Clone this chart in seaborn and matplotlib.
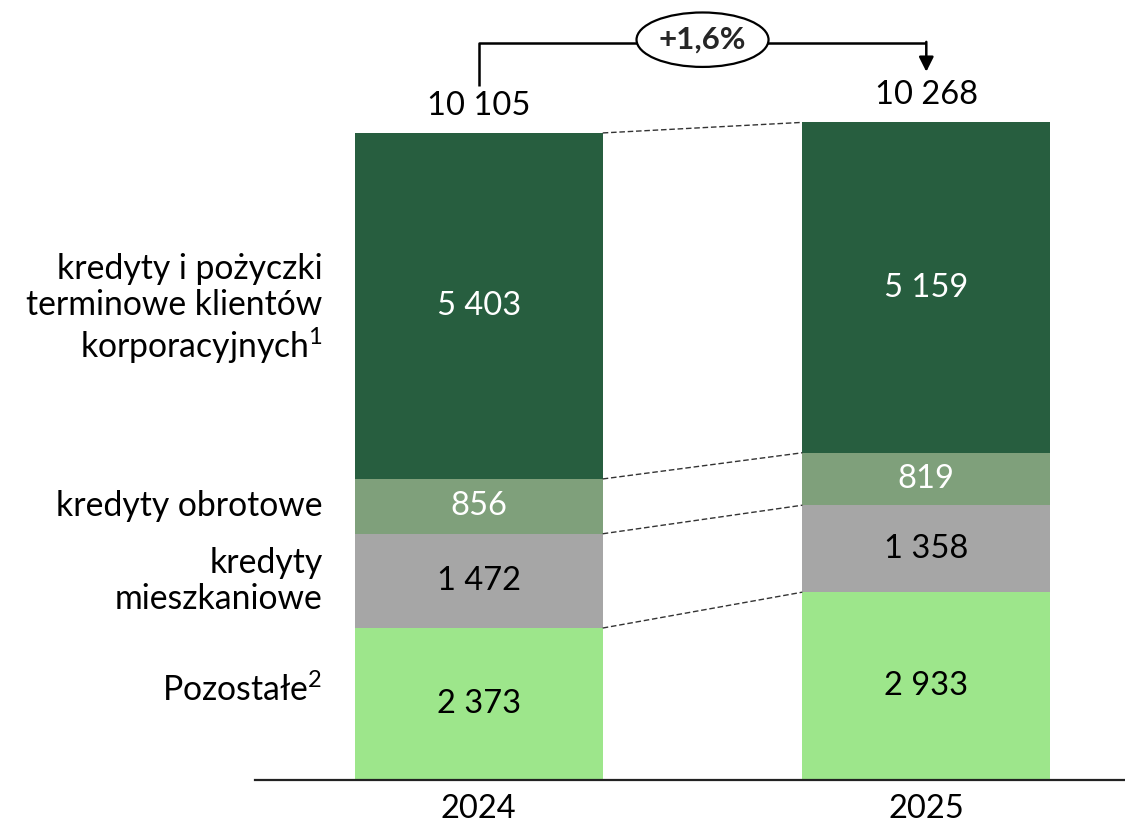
import numpy as np
import pandas as pd
import matplotlib
matplotlib.use("Agg")
import matplotlib.pyplot as plt
from matplotlib.patches import Ellipse
import seaborn as sns

# data (mln PLN)
years = ["2024", "2025"]
segments = ["Pozostałe", "kredyty mieszkaniowe", "kredyty obrotowe",
            "kredyty i pożyczki terminowe"]
pozostale = [2373, 2933]
mieszkaniowe = [1472, 1358]
obrotowe = [856, 819]
terminowe = [5403, 5159]
totals = [10105, 10268]
growth_label = "+1,6%"

seg_labels = [r"Pozostałe$^{\mathregular{2}}$", "kredyty\nmieszkaniowe",
              "kredyty obrotowe",
              "kredyty i pożyczki\nterminowe klientów\n"
              r"korporacyjnych$^{\mathregular{1}}$"]
colors = ["#9DE68B", "#A6A6A6", "#7FA07B", "#275E3F"]
text_colors = ["black", "black", "white", "white"]


def fmt(v):
    return f"{v:,}".replace(",", " ")


def main():
    sns.set_theme(style="white")
    plt.rcParams["font.family"] = ["Lato", "DejaVu Sans"]
    plt.rcParams["mathtext.default"] = "regular"

    values = np.array([pozostale, mieszkaniowe, obrotowe, terminowe])
    cum = values.cumsum(axis=0)
    bottoms = cum - values

    fig = plt.figure(figsize=(11.25, 8.27), dpi=100)
    ax = fig.add_axes([255 / 1125, 47 / 827, 870 / 1125, 780 / 827])

    width = 0.554
    # stacked bars: draw cumulative heights from top layer down
    for i in range(len(segments) - 1, -1, -1):
        df = pd.DataFrame({"year": years, "value": cum[i]})
        sns.barplot(data=df, x="year", y="value", color=colors[i],
                    width=width, saturation=1, ax=ax, linewidth=0)

    ax.set_xlim(-0.5, 1.444)
    ax.set_ylim(0, 12180)

    # value labels inside segments
    for i in range(len(segments)):
        for j in range(len(years)):
            ax.text(j, bottoms[i, j] + values[i, j] / 2, fmt(values[i, j]),
                    ha="center", va="center", fontsize=23.5,
                    color=text_colors[i])

    # totals above bars
    for j, t in enumerate(totals):
        ax.text(j, t + 190, fmt(t), ha="center", va="bottom", fontsize=23.5,
                color="black")

    # dashed connectors between bars
    for i in range(len(segments)):
        ax.plot([width / 2, 1 - width / 2], [cum[i, 0], cum[i, 1]],
                color="#333333", lw=1, ls=(0, (4, 2)), zorder=3)

    # segment names on the left
    offsets = [220, 0, 0, -60]
    for i in range(len(segments)):
        ax.text(-0.349, bottoms[i, 0] + values[i, 0] / 2 + offsets[i],
                seg_labels[i], ha="right", va="center", fontsize=24.3,
                linespacing=1.15, color="black")

    # growth bracket with arrow
    y_top = 11516
    ax.plot([0, 0, 1, 1], [10844, y_top, y_top, y_top],
            color="black", lw=1.8, clip_on=False, solid_capstyle="butt")
    ax.annotate("", xy=(1, 11060), xytext=(1, y_top + 10),
                arrowprops=dict(arrowstyle="-|>", color="black", lw=1.8,
                                mutation_scale=22, shrinkA=0, shrinkB=0))
    ell = Ellipse((0.5, 11560), 0.295, 850, facecolor="white",
                  edgecolor="black", lw=1.6, zorder=4, clip_on=False)
    ax.add_patch(ell)
    ax.text(0.5, 11560, growth_label, ha="center", va="center", fontsize=22.5,
            fontweight="bold", zorder=5)

    # axes styling
    for s in ["top", "left", "right"]:
        ax.spines[s].set_visible(False)
    ax.spines["bottom"].set_color("#222222")
    ax.spines["bottom"].set_linewidth(1.6)
    ax.set_yticks([])
    ax.set_xlabel("")
    ax.set_ylabel("")
    ax.tick_params(axis="x", length=0, pad=10, labelsize=23.5,
                   labelcolor="black")
    ax.grid(False)

    fig.savefig("out.png", dpi=100)
    plt.close(fig)


if __name__ == "__main__":
    main()
